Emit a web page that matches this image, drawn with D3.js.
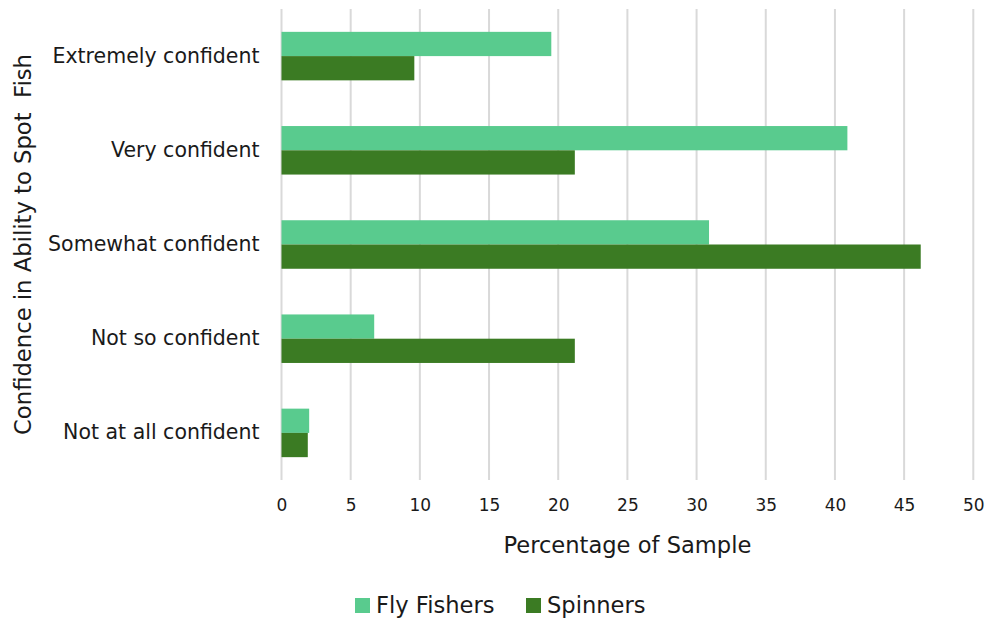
<!DOCTYPE html>
<html>
<head>
<meta charset="utf-8">
<script src="https://cdn.jsdelivr.net/npm/d3@7"></script>
<style>
  html, body { margin: 0; padding: 0; background: #fff; }
  svg { display: block; font-family: "DejaVu Sans", "Liberation Sans", sans-serif; }
</style>
</head>
<body>
<svg id="chart" width="987" height="620"></svg>
<script>
// Confidence levels, top to bottom
const categories = [
  "Extremely confident",
  "Very confident",
  "Somewhat confident",
  "Not so confident",
  "Not at all confident"
];
const seriesNames = ["Fly Fishers", "Spinners"];
const flyFishers = [19.5, 40.9, 30.9, 6.7, 2.0];
const spinners   = [9.6, 21.2, 46.2, 21.2, 1.9];
const xTicks = [0, 5, 10, 15, 20, 25, 30, 35, 40, 45, 50];
const colors = ["#59CB8E", "#3B7B23"];
const textColor = "#1a1a1a";

const rows = categories.map((c, i) => ({ cat: c, values: [flyFishers[i], spinners[i]] }));

const svg = d3.select("#chart");
const margin = { left: 281.5, right: 13.7, top: 9, bottom: 140 };
const W = 987, H = 620;

const x = d3.scaleLinear().domain([0, 50]).range([margin.left, W - margin.right]);
const y = d3.scaleBand().domain(categories).range([margin.top, H - margin.bottom]).paddingInner(0.485).paddingOuter(0.2425);
const ySub = d3.scaleBand().domain(seriesNames).range([0, y.bandwidth()]);

// Vertical gridlines
svg.append("g")
  .selectAll("line")
  .data(xTicks)
  .join("line")
  .attr("x1", d => x(d)).attr("x2", d => x(d))
  .attr("y1", margin.top).attr("y2", H - margin.bottom)
  .attr("stroke", "#D9D9D9")
  .attr("stroke-width", 2);

// Bars
const groups = svg.append("g")
  .selectAll("g")
  .data(rows)
  .join("g")
  .attr("transform", d => `translate(0,${y(d.cat)})`);

groups.selectAll("rect")
  .data(d => d.values.map((v, k) => ({ name: seriesNames[k], v, k })))
  .join("rect")
  .attr("x", x(0))
  .attr("y", d => ySub(d.name))
  .attr("width", d => x(d.v) - x(0))
  .attr("height", ySub.bandwidth())
  .attr("fill", d => colors[d.k]);

// X axis labels
const xAxis = d3.axisBottom(x).tickValues(xTicks).tickSize(0).tickPadding(0);
const gx = svg.append("g")
  .attr("transform", `translate(0,${H - margin.bottom + 19})`)
  .call(xAxis);
gx.select(".domain").remove();
gx.selectAll("text")
  .attr("font-size", 17)
  .attr("fill", textColor)
  .attr("font-family", "'DejaVu Sans', sans-serif");

// Y axis labels
const yAxis = d3.axisLeft(y).tickSize(0).tickPadding(22);
const gy = svg.append("g")
  .attr("transform", `translate(${margin.left},0)`)
  .call(yAxis);
gy.select(".domain").remove();
gy.selectAll("text")
  .attr("font-size", 20.5)
  .attr("fill", textColor)
  .attr("font-family", "'DejaVu Sans', sans-serif");

// Axis titles
svg.append("text")
  .attr("x", (x(0) + x(50)) / 2)
  .attr("y", 553)
  .attr("text-anchor", "middle")
  .attr("font-size", 22.6)
  .attr("fill", textColor)
  .text("Percentage of Sample");

svg.append("text")
  .attr("transform", `translate(31,${(margin.top + H - margin.bottom) / 2}) rotate(-90)`)
  .attr("text-anchor", "middle")
  .attr("font-size", 22.7)
  .attr("fill", textColor)
  .attr("xml:space", "preserve")
  .text("Confidence in Ability to Spot  Fish");

// Legend
const legendX = [355, 526];
const legend = svg.append("g")
  .selectAll("g")
  .data(seriesNames)
  .join("g")
  .attr("transform", (d, i) => `translate(${legendX[i]},598)`);
legend.append("rect")
  .attr("width", 15).attr("height", 15)
  .attr("fill", (d, i) => colors[i]);
legend.append("text")
  .attr("x", 21).attr("y", 15)
  .attr("font-size", 22.6)
  .attr("fill", textColor)
  .text(d => d);
</script>
</body>
</html>
